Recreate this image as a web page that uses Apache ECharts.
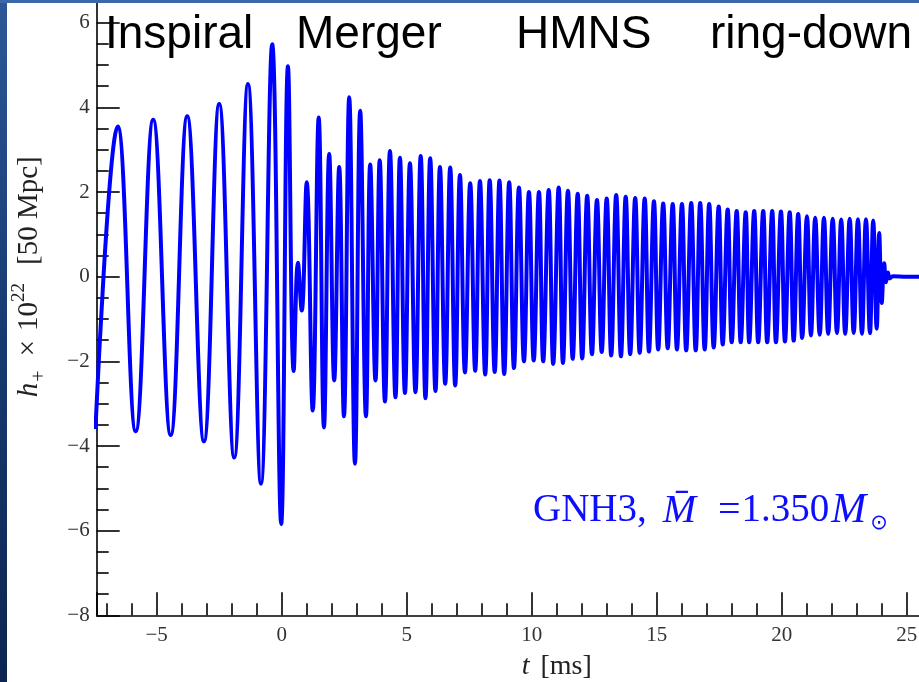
<!DOCTYPE html>
<html>
<head>
<meta charset="utf-8">
<script src="https://cdn.jsdelivr.net/npm/echarts@6/dist/echarts.min.js"></script>
<style>
  html, body { margin: 0; padding: 0; background: #ffffff; }
  #chart { width: 919px; height: 682px; }
</style>
</head>
<body>
<div id="chart"></div>
<script>
// Successive extrema of the h+ waveform: time [ms] and strain amplitude (x 1e22, 50 Mpc)
const tMs = [
  -7.45, -6.56, -5.84, -5.14, -4.44, -3.78, -3.11, -2.50, -1.90, -1.35,
  -0.83, -0.38, -0.02, 0.25, 0.48, 0.65, 0.80, 1.00, 1.24, 1.48,
  1.69, 1.90, 2.10, 2.30, 2.49, 2.70, 2.93, 3.14, 3.37, 3.54,
  3.75, 3.92, 4.13, 4.33, 4.55, 4.73, 4.93, 5.13, 5.35, 5.56,
  5.75, 5.94, 6.15, 6.33, 6.54, 6.74, 6.94, 7.13, 7.33, 7.54,
  7.74, 7.93, 8.14, 8.32, 8.52, 8.71, 8.90, 9.10, 9.29, 9.49,
  9.69, 9.89, 10.08, 10.29, 10.46, 10.68, 10.86, 11.08, 11.25, 11.45,
  11.64, 11.84, 12.02, 12.22, 12.41, 12.61, 12.80, 13.00, 13.18, 13.38,
  13.57, 13.76, 13.94, 14.14, 14.32, 14.52, 14.69, 14.89, 15.06, 15.26,
  15.44, 15.64, 15.81, 16.01, 16.18, 16.38, 16.56, 16.74, 16.92, 17.10,
  17.28, 17.48, 17.64, 17.84, 18.00, 18.20, 18.36, 18.56, 18.70, 18.90,
  19.06, 19.26, 19.42, 19.62, 19.77, 19.97, 20.13, 20.32, 20.48, 20.66,
  20.82, 21.01, 21.17, 21.34, 21.52, 21.69, 21.86, 22.04, 22.21, 22.38,
  22.54, 22.72, 22.88, 23.05, 23.21, 23.37, 23.53, 23.66, 23.80, 23.90,
  24.00, 24.10, 24.17, 24.25, 24.32, 24.45, 25.00, 29.40
];
const hPlus = [
  -3.60, 3.55, -3.65, 3.71, -3.74, 3.79, -3.89, 4.08, -4.27, 4.55,
  -4.89, 5.49, -5.84, 4.97, -2.23, 0.33, -0.80, 2.23, -3.16, 3.76,
  -3.56, 2.90, -2.45, 2.59, -3.30, 4.24, -4.42, 3.92, -3.30, 2.65,
  -2.45, 2.75, -2.95, 2.97, -2.85, 2.81, -2.75, 2.68, -2.73, 2.85,
  -2.87, 2.80, -2.70, 2.59, -2.53, 2.58, -2.57, 2.40, -2.26, 2.21,
  -2.22, 2.26, -2.31, 2.28, -2.25, 2.27, -2.30, 2.23, -2.16, 2.11,
  -2.00, 2.00, -1.98, 2.00, -2.00, 2.05, -2.06, 2.11, -2.04, 2.03,
  -1.94, 1.96, -1.93, 1.91, -1.83, 1.81, -1.78, 1.85, -1.86, 1.93,
  -1.88, 1.89, -1.83, 1.86, -1.80, 1.85, -1.77, 1.78, -1.72, 1.73,
  -1.69, 1.72, -1.72, 1.72, -1.74, 1.74, -1.74, 1.74, -1.72, 1.72,
  -1.67, 1.66, -1.60, 1.59, -1.55, 1.55, -1.55, 1.52, -1.55, 1.55,
  -1.55, 1.55, -1.55, 1.55, -1.55, 1.54, -1.53, 1.52, -1.51, 1.48,
  -1.45, 1.43, -1.39, 1.39, -1.37, 1.39, -1.35, 1.37, -1.33, 1.35,
  -1.35, 1.37, -1.33, 1.36, -1.35, 1.36, -1.33, 1.33, -1.23, 1.03,
  -0.62, 0.32, -0.13, 0.10, -0.04, 0.01, 0.00, 0.00
];

// Tick labels of both axes
const xTickLabels = [-5, 0, 5, 10, 15, 20, 25];
const yTickLabels = [-8, -6, -4, -2, 0, 2, 4, 6];

// Phase names written across the top
const phaseNames = ['Inspiral', 'Merger', 'HMNS', 'ring-down'];

const fmtNum = v => (v < 0 ? '\u2212' + Math.abs(v) : String(v));

const chart = echarts.init(document.getElementById('chart'), null, { renderer: 'canvas' });

const serif = 'Liberation Serif';
const axisBlack = { color: '#000', width: 1.6 };
const nameColor = '#222';
const noteBlue = '#0d0dff';
const phaseFont = '46px "Liberation Sans"';

const option = {
  animation: false,
  backgroundColor: '#ffffff',
  grid: {
    left: 96.7, right: -97.7, top: -61.9, bottom: 66.7,
    containLabel: false, outerBoundsMode: 'none'
  },
  xAxis: {
    type: 'value',
    min: -7.4, max: 29.4,
    minInterval: 5, maxInterval: 5,
    axisLine: { onZero: false, lineStyle: axisBlack },
    axisTick: { inside: true, length: 23, lineStyle: axisBlack },
    minorTick: { show: true, splitNumber: 5, length: 12, lineStyle: axisBlack },
    splitLine: { show: false },
    axisLabel: {
      margin: 10, fontFamily: serif, fontSize: 21, color: '#333',
      showMinLabel: false, showMaxLabel: false,
      formatter: v => (xTickLabels.includes(v) ? fmtNum(v) : '')
    },
    name: '{i|t}{n|[ms]}',
    nameLocation: 'middle',
    nameGap: 37,
    nameTextStyle: {
      rich: {
        i: { fontFamily: serif, fontStyle: 'italic', fontSize: 28, color: nameColor, padding: [0, 11, 0, 0] },
        n: { fontFamily: serif, fontSize: 28, color: nameColor }
      }
    }
  },
  yAxis: {
    type: 'value',
    min: -8, max: 8, interval: 2,
    axisLine: { onZero: false, lineStyle: axisBlack },
    axisTick: { inside: true, length: 23, lineStyle: axisBlack },
    minorTick: { show: true, splitNumber: 4, length: 12, lineStyle: axisBlack },
    splitLine: { show: false },
    axisLabel: {
      margin: 7, fontFamily: serif, fontSize: 21, color: '#333',
      formatter: v => (yTickLabels.includes(v) ? fmtNum(v) : '')
    },
    name: '{i|h}{sub|+}{x|\u00d7}{n|10}{sup|22}{b|[50 Mpc]}',
    nameLocation: 'middle',
    nameGap: 47,
    nameRotate: 90,
    nameTextStyle: {
      rich: {
        i: { fontFamily: serif, fontStyle: 'italic', fontSize: 29, lineHeight: 40, color: nameColor },
        x: { fontFamily: serif, fontSize: 29, lineHeight: 40, color: nameColor, padding: [0, 9, 0, 10] },
        n: { fontFamily: serif, fontSize: 29, lineHeight: 40, color: nameColor },
        b: { fontFamily: serif, fontSize: 29, lineHeight: 40, color: nameColor, padding: [0, 0, 0, 18] },
        sub: { fontFamily: serif, fontSize: 20, lineHeight: 20, verticalAlign: 'bottom', color: nameColor, padding: [0, 4, 0, 1] },
        sup: { fontFamily: serif, fontSize: 19, lineHeight: 19, verticalAlign: 'top', color: nameColor }
      }
    }
  },
  series: [{
    type: 'line',
    data: tMs.map((t, i) => [t, hPlus[i]]),
    smooth: 0.42,
    showSymbol: false,
    clip: true,
    lineStyle: { color: '#0000ff', width: 4 }
  }],
  graphic: [
    {
      type: 'rect', z: 100,
      shape: { x: 0, y: 0, width: 7, height: 682 },
      style: {
        fill: new echarts.graphic.LinearGradient(0, 0, 0, 1, [
          { offset: 0, color: '#2b5896' },
          { offset: 0.5, color: '#163a70' },
          { offset: 1, color: '#0b2550' }
        ])
      }
    },
    {
      type: 'rect', z: 100,
      shape: { x: 0, y: 0, width: 919, height: 3 },
      style: { fill: '#3a68aa' }
    },
    { type: 'text', z: 50, x: 105, y: 35.5,
      style: { text: phaseNames[0], font: phaseFont, fill: '#000', verticalAlign: 'middle' } },
    { type: 'text', z: 50, x: 296, y: 35.5,
      style: { text: phaseNames[1], font: phaseFont, fill: '#000', verticalAlign: 'middle' } },
    { type: 'text', z: 50, x: 516, y: 35.5,
      style: { text: phaseNames[2], font: phaseFont, fill: '#000', verticalAlign: 'middle' } },
    { type: 'text', z: 50, x: 710, y: 35.5,
      style: { text: phaseNames[3], font: phaseFont, fill: '#000', verticalAlign: 'middle' } },
    {
      type: 'text', z: 50, x: 533, y: 511,
      style: {
        text: '{n|GNH3,}{m1|M\u0304}{eq|=}{n|1.350}{m2|M}{s|\u2299}',
        verticalAlign: 'middle',
        fill: noteBlue,
        rich: {
          n: { fontFamily: serif, fontSize: 39, lineHeight: 46, fill: noteBlue },
          m1: { fontFamily: serif, fontStyle: 'italic', fontSize: 40, lineHeight: 46, fill: noteBlue, padding: [0, 0, 0, 16] },
          eq: { fontFamily: serif, fontSize: 40, lineHeight: 46, fill: noteBlue, padding: [0, 1, 0, 22] },
          m2: { fontFamily: serif, fontStyle: 'italic', fontSize: 42, lineHeight: 46, fill: noteBlue, padding: [0, 4, 0, 2] },
          s: { fontFamily: 'DejaVu Sans', fontSize: 21, lineHeight: 22, verticalAlign: 'bottom', fill: noteBlue }
        }
      }
    }
  ]
};

chart.setOption(option);
</script>
</body>
</html>
